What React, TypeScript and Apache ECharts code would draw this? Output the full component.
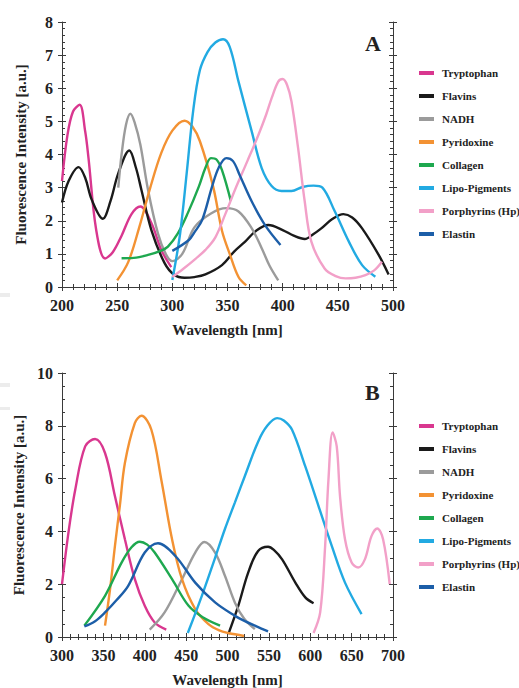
import React, { useEffect, useRef } from "react";
import * as echarts from "echarts";

// ---------- Data (wavelength nm, intensity a.u.) ----------
const seriesNames = [
  "Tryptophan",
  "Flavins",
  "NADH",
  "Pyridoxine",
  "Collagen",
  "Lipo-Pigments",
  "Porphyrins (Hp)",
  "Elastin",
];
const seriesColors = [
  "#d9378f",
  "#1a1a1a",
  "#9b9b9b",
  "#f39233",
  "#1ea84f",
  "#22aae2",
  "#f2a0c8",
  "#1c5ea8",
];

// Panel A (excitation)
const trpA = [[200,3.2],[205,4.6],[210,5.3],[216,5.5],[221,4.7],[224,3.9],[231,1.72],[239,0.86],[246,1.05],[254,1.55],[263,2.2],[271,2.43],[281,1.93],[290,1.12],[299,0.6]];
const flaA = [[200,2.55],[206,3.2],[215,3.62],[221,3.3],[227,2.63],[237,2.06],[244,2.6],[251,3.43],[261,4.12],[267,3.6],[272,2.93],[281,1.72],[293,0.72],[302,0.36],[311,0.28],[320,0.3],[330,0.38],[345,0.66],[356,1.07],[366,1.37],[376,1.7],[387,1.87],[400,1.72],[410,1.55],[420,1.45],[428,1.6],[435,1.77],[445,2.05],[455,2.2],[463,2.1],[472,1.77],[487,0.97],[496,0.38]];
const nadhA = [[251,3.0],[254,4.0],[258,4.9],[262,5.23],[266,4.95],[271,4.3],[278,2.93],[287,1.61],[294,1.0],[300,0.78],[309,1.0],[320,1.8],[335,2.22],[349,2.38],[360,2.28],[372,1.77],[381,1.17],[388,0.65],[396,0.2]];
const pyrA = [[250,0.2],[260,0.75],[270,1.8],[280,3.0],[290,4.05],[300,4.72],[311,5.02],[318,4.85],[325,4.4],[337,3.03],[345,1.7],[352,1.0],[360,0.3],[367,0.05]];
const colA = [[254,0.87],[265,0.88],[278,0.97],[290,1.1],[296,1.22],[305,1.62],[314,2.23],[324,3.03],[330,3.6],[335,3.89],[340,3.85],[345,3.53],[353,2.6]];
const lipoA = [[300,0.21],[307,1.6],[313,3.43],[319,5.35],[325,6.55],[332,7.1],[339,7.38],[346,7.48],[352,7.25],[360,6.2],[372,4.69],[381,3.59],[390,3.05],[399,2.9],[408,2.9],[418,3.02],[428,3.06],[436,3.0],[447,2.3],[460,1.37],[472,0.66],[484,0.31]];
const porA = [[300,0.3],[310,0.55],[321,0.85],[330,1.12],[339,1.5],[348,2.2],[357,2.95],[368,3.8],[378,4.59],[385,5.2],[390,5.7],[396,6.2],[400,6.28],[404,6.1],[408,5.6],[414,4.19],[420,2.58],[426,1.37],[438,0.56],[448,0.33],[457,0.26],[466,0.28],[475,0.36],[483,0.5],[490,0.76]];
const elaA = [[300,1.09],[315,1.42],[320,1.65],[327,2.02],[336,3.03],[342,3.6],[349,3.89],[355,3.8],[361,3.38],[372,2.58],[384,1.87],[398,1.27]];

// Panel B (emission)
const trpB = [[300,2.0],[308,4.0],[316,5.58],[328,7.22],[340,7.5],[352,6.97],[364,5.33],[376,3.7],[388,2.19],[400,1.18],[412,0.55],[426,0.28]];
const flaB = [[501,0.11],[513,1.18],[525,2.44],[537,3.26],[549,3.42],[556,3.3],[566,2.94],[582,2.06],[594,1.5],[604,1.28]];
const nadhB = [[406,0.28],[424,0.93],[445,2.19],[461,3.2],[472,3.6],[485,3.2],[497,2.31],[509,1.3],[520,0.7],[533,0.3]];
const pyrB = [[352,0.43],[358,1.8],[364,3.45],[370,5.0],[376,6.59],[388,8.1],[396,8.38],[408,7.85],[420,5.96],[433,3.7],[445,2.19],[461,1.06],[477,0.49],[490,0.25],[501,0.15],[520,0.04]];
const colB = [[327,0.43],[352,1.56],[372,2.82],[384,3.4],[394,3.61],[403,3.5],[412,3.2],[433,2.19],[453,1.18],[470,0.75],[491,0.43]];
const lipoB = [[452,0.15],[469,1.56],[485,3.0],[497,4.1],[509,5.1],[521,6.1],[537,7.4],[548,8.0],[560,8.29],[568,8.2],[578,7.85],[594,6.46],[610,4.96],[626,3.45],[642,2.06],[662,0.87]];
const porB = [[604,0.15],[612,0.93],[618,3.45],[622,5.96],[627,7.75],[632,7.22],[636,5.33],[642,3.7],[650,2.82],[658,2.63],[666,2.94],[674,3.82],[681,4.11],[688,3.7],[696,2.0]];
const elaB = [[327,0.4],[340,0.6],[352,0.93],[366,1.4],[380,1.94],[400,3.2],[416,3.55],[437,3.07],[461,2.06],[485,1.31],[509,0.8],[521,0.6],[535,0.4],[549,0.21]];

const panelA = [trpA, flaA, nadhA, pyrA, colA, lipoA, porA, elaA];
const panelB = [trpB, flaB, nadhB, pyrB, colB, lipoB, porB, elaB];

const FONT = "'Liberation Serif', 'DejaVu Serif', serif";
const AXIS_COLOR = "#3a3a3a";

function xAxes(grid: number, min: number, max: number, interval: number, minorSplit: number) {
  const base = { gridIndex: grid, type: "value", min, max, interval, splitLine: { show: false } };
  const line = { show: true, lineStyle: { color: AXIS_COLOR, width: 1 } };
  const tick = { lineStyle: { color: AXIS_COLOR, width: 1 } };
  return [
    {
      ...base,
      position: "bottom",
      axisLine: line,
      axisTick: { ...tick, inside: false, length: 4 },
      axisLabel: { show: true, margin: 10, fontFamily: FONT, fontWeight: "bold", fontSize: 16, color: "#222" },
      name: "Wavelength [nm]",
      nameLocation: "middle",
      nameGap: 35,
      nameTextStyle: { fontFamily: FONT, fontWeight: "bold", fontSize: 15, color: "#222" },
    },
    {
      ...base,
      position: "bottom",
      axisLine: { show: false },
      axisTick: { ...tick, inside: true, length: 4 },
      minorTick: { show: true, splitNumber: minorSplit, length: 3, lineStyle: { color: AXIS_COLOR } },
      axisLabel: { show: false },
    },
    {
      ...base,
      position: "top",
      axisLine: line,
      axisTick: { ...tick, inside: true, length: 4 },
      minorTick: { show: true, splitNumber: minorSplit, length: 3, lineStyle: { color: AXIS_COLOR } },
      axisLabel: { show: false },
    },
    {
      ...base,
      position: "top",
      axisLine: { show: false },
      axisTick: { ...tick, inside: false, length: 4 },
      axisLabel: { show: false },
    },
  ];
}

function yAxes(grid: number, min: number, max: number, interval: number, minorSplit: number) {
  const base = { gridIndex: grid, type: "value", min, max, interval, splitLine: { show: false } };
  const line = { show: true, lineStyle: { color: AXIS_COLOR, width: 1 } };
  const tick = { lineStyle: { color: AXIS_COLOR, width: 1 } };
  return [
    {
      ...base,
      position: "left",
      axisLine: line,
      axisTick: { ...tick, inside: false, length: 4 },
      axisLabel: { show: true, margin: 9, fontFamily: FONT, fontWeight: "bold", fontSize: 16, color: "#222" },
      name: "Fluorescence Intensity [a.u.]",
      nameLocation: "middle",
      nameRotate: 90,
      nameGap: 34,
      nameTextStyle: { fontFamily: FONT, fontWeight: "bold", fontSize: 15, color: "#222" },
    },
    {
      ...base,
      position: "left",
      axisLine: { show: false },
      axisTick: { ...tick, inside: true, length: 4 },
      minorTick: { show: true, splitNumber: minorSplit, length: 3, lineStyle: { color: AXIS_COLOR } },
      axisLabel: { show: false },
    },
    {
      ...base,
      position: "right",
      axisLine: line,
      axisTick: { ...tick, inside: true, length: 4 },
      minorTick: { show: true, splitNumber: minorSplit, length: 3, lineStyle: { color: AXIS_COLOR } },
      axisLabel: { show: false },
    },
    {
      ...base,
      position: "right",
      axisLine: { show: false },
      axisTick: { ...tick, inside: false, length: 4 },
      axisLabel: { show: false },
    },
  ];
}

function makeSeries(panel: number[][][], axisIndex: number) {
  return panel.map((data, i) => ({
    name: seriesNames[i],
    type: "line",
    xAxisIndex: axisIndex,
    yAxisIndex: axisIndex,
    data,
    smooth: 0.35,
    showSymbol: false,
    symbol: "none",
    clip: false,
    lineStyle: { color: seriesColors[i], width: 2.4 },
    itemStyle: { color: seriesColors[i] },
    z: 3,
  }));
}

function makeLegend(top: number) {
  return {
    data: seriesNames,
    orient: "vertical",
    left: 414,
    top,
    icon: "rect",
    itemWidth: 15,
    itemHeight: 4,
    itemGap: 9,
    selectedMode: false,
    textStyle: { fontFamily: FONT, fontWeight: "bold", fontSize: 11, color: "#222", lineHeight: 14, padding: [0, 0, 0, 3] },
  };
}

export default function App() {
  const ref = useRef<HTMLDivElement>(null);
  useEffect(() => {
    if (!ref.current) return;
    const chart = echarts.init(ref.current, null, { renderer: "svg" });
    const option = {
      animation: false,
      backgroundColor: "#ffffff",
      grid: [
        { left: 62, top: 22, width: 331, height: 265 },
        { left: 62, top: 373, width: 331, height: 265 },
      ],
      xAxis: [...xAxes(0, 200, 500, 50, 5), ...xAxes(1, 300, 700, 50, 5)],
      yAxis: [...yAxes(0, 0, 8, 1, 5), ...yAxes(1, 0, 10, 2, 4)],
      legend: [makeLegend(61), makeLegend(414)],
      series: [...makeSeries(panelA, 0), ...makeSeries(panelB, 4)],
      graphic: [
        { type: "text", left: 365, top: 32, style: { text: "A", fontFamily: FONT, fontWeight: "bold", fontSize: 22, fill: "#222" } },
        { type: "text", left: 365, top: 381, style: { text: "B", fontFamily: FONT, fontWeight: "bold", fontSize: 22, fill: "#222" } },
        { type: "rect", shape: { x: 0, y: 293, width: 10, height: 4 }, style: { fill: "#ececec" } },
        { type: "rect", shape: { x: 0, y: 383, width: 10, height: 4 }, style: { fill: "#ececec" } },
        { type: "rect", shape: { x: 0, y: 407, width: 10, height: 3 }, style: { fill: "#ececec" } },
      ],
    };
    chart.setOption(option as any);
    return () => chart.dispose();
  }, []);
  return <div ref={ref} style={{ position: "absolute", left: 0, top: 0, width: 519, height: 688 }} />;
}
